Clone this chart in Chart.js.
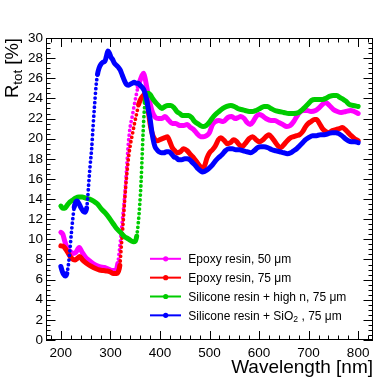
<!DOCTYPE html>
<html>
<head>
<meta charset="utf-8">
<title>Total reflectance vs wavelength</title>
<script src="https://cdn.jsdelivr.net/npm/chart.js@4.4.1/dist/chart.umd.min.js"></script>
<style>
  html, body { margin: 0; padding: 0; background: #fff; }
  canvas { display: block; }
</style>
</head>
<body>
<canvas id="chart" width="389" height="378"></canvas>
<script>
// axis ticks
const xTicks = [200, 300, 400, 500, 600, 700, 800];
const yTicks = [0, 2, 4, 6, 8, 10, 12, 14, 16, 18, 20, 22, 24, 26, 28, 30];

// legend labels (_{..} = subscript)
const labels = [
  'Epoxy resin, 50 \u03bcm',
  'Epoxy resin, 75 \u03bcm',
  'Silicone resin + high n, 75 \u03bcm',
  'Silicone resin + SiO_{2} , 75 \u03bcm'
];

// Epoxy resin, 50 um
const epoxy50Wl = [200,204,208,213,219,225,230,237,243,250,257,265,272,280,288,296,304,311,315,318,321,324,327,330,333,336,340,344,348,352,356,360,364,367,370,373,376,380,385,391,397,404,410,418,425,432,440,448,455,462,468,475,482,488,494,500,506,512,519,528,537,545,552,558,563,570,576,582,588,594,600,606,614,624,632,640,648,656,663,670,676,682,690,697,705,714,722,730,735,742,750,758,766,775,785,792,800];
const epoxy50R = [10.7,10.5,9.8,9.1,8.8,8.6,8.7,9.2,8.7,8.2,7.9,7.6,7.4,7.25,7.2,7.05,6.9,6.9,7.6,8.8,10.2,11.8,13.3,15.0,17.2,19.4,21.2,22.2,23.3,24.3,25.2,25.8,26.3,26.5,26.0,25.2,24.4,23.5,22.6,22.1,22.0,22.0,22.2,21.8,21.5,21.5,21.3,21.3,21.4,21.1,20.9,20.5,20.2,20.2,20.3,20.6,21.4,21.7,21.8,21.7,22.1,22.2,22.0,22.1,22.2,22.0,21.6,21.4,21.7,22.2,22.4,22.3,22.0,21.8,21.8,21.6,21.4,21.2,21.3,21.7,22.2,22.6,22.8,22.8,22.7,22.8,23.1,23.5,23.6,23.3,22.9,22.7,22.6,22.7,22.8,22.7,22.5];

// Epoxy resin, 75 um
const epoxy75Wl = [200,205,210,215,220,225,229,233,238,243,248,255,262,270,278,286,294,300,306,312,316,319,322,325,328,331,334,337,341,345,349,353,357,361,365,369,372,375,378,381,385,390,395,400,405,410,415,420,425,430,435,441,448,455,462,468,474,480,485,490,495,500,506,512,518,523,530,536,542,549,555,560,566,572,580,587,594,600,608,614,620,626,632,638,644,650,657,664,670,676,682,688,694,699,705,712,716,722,728,735,741,748,755,762,768,774,780,786,793,800];
const epoxy75R = [9.35,9.3,9.0,8.6,8.2,8.0,7.95,8.1,8.3,8.0,7.75,7.5,7.3,7.1,6.95,6.9,6.85,6.75,6.6,6.6,6.8,7.4,9.3,11.2,13.3,15.3,16.9,18.3,19.6,20.6,21.6,22.5,23.4,23.9,24.2,24.4,24.2,23.3,22.2,21.2,20.4,19.9,19.8,19.9,20.0,20.1,20.2,19.7,19.1,18.8,18.6,18.7,19.0,18.8,18.4,18.1,17.7,17.3,17.0,17.3,18.1,18.6,18.9,19.3,19.9,20.1,19.8,19.5,19.6,19.9,19.7,19.4,19.2,19.5,20.0,20.2,19.9,19.7,19.9,20.2,20.4,20.1,19.7,19.3,19.1,19.4,19.8,20.1,20.2,20.3,20.4,20.7,21.2,21.5,21.7,21.9,21.9,21.5,21.0,20.7,20.6,20.8,20.9,21.0,21.1,20.9,20.6,20.3,20.0,19.8];

// Silicone resin + high n, 75 um
const highNWl = [200,204,208,213,218,224,230,236,243,250,258,266,274,282,290,298,305,312,320,328,336,342,347,350,353,356,359,362,364,366,368,370,373,376,380,385,391,397,404,410,416,422,428,434,440,446,452,458,464,470,476,482,487,493,499,505,512,519,527,535,543,550,557,564,572,580,587,594,602,610,617,624,632,640,650,660,670,680,688,694,700,706,712,720,728,735,742,750,757,763,770,776,782,790,800];
const highNR = [13.3,13.1,13.1,13.4,13.7,13.9,14.1,14.2,14.2,14.1,14.0,13.8,13.5,13.0,12.6,12.1,11.6,11.1,10.7,10.3,10.05,9.85,9.75,9.8,10.3,11.5,13.3,15.8,18.2,20.6,22.5,23.6,24.3,24.5,24.4,24.0,23.6,23.3,23.0,23.2,23.3,23.3,23.1,22.7,22.5,22.3,22.3,22.3,22.1,21.7,21.5,21.3,21.2,21.3,21.6,22.0,22.4,22.7,23.0,23.2,23.3,23.2,23.0,22.9,22.8,22.7,22.7,22.8,23.0,23.2,23.2,23.0,22.8,22.7,22.6,22.5,22.5,22.6,22.9,23.2,23.5,23.8,23.9,23.9,23.9,24.0,24.2,24.3,24.3,24.1,23.9,23.7,23.4,23.3,23.2];

// Silicone resin + SiO2, 75 um
const sio2Wl = [200,203,206,209,212,215,218,221,224,227,230,233,237,241,245,249,252,254,256,259,262,265,268,271,274,277,281,285,289,292,295,298,301,304,308,312,316,320,324,328,332,336,340,344,348,352,356,360,364,368,371,374,377,380,383,386,390,394,398,403,408,413,418,423,428,433,438,444,450,455,460,466,472,477,482,486,490,495,500,506,512,518,525,532,539,546,553,560,568,576,583,590,597,603,610,618,626,634,642,650,657,664,670,676,682,688,694,700,708,716,724,732,740,748,755,761,767,774,780,786,793,800];
const sio2R = [7.3,6.8,6.5,6.35,6.6,7.4,8.8,10.5,12.0,13.2,13.7,13.8,13.5,13.1,12.8,12.7,13.1,14.0,15.4,17.3,18.9,21.2,23.3,25.2,26.4,27.0,27.4,27.6,27.7,28.2,28.7,28.5,28.1,27.9,27.5,27.3,27.1,26.8,26.3,25.8,25.4,25.3,25.4,25.5,25.6,25.5,25.5,25.3,25.1,24.8,24.3,23.7,22.8,22.0,20.9,20.0,19.2,18.9,18.7,18.6,18.6,18.7,18.7,18.5,18.2,18.1,17.9,17.9,18.0,18.0,17.9,17.6,17.3,17.0,16.8,16.7,16.75,16.9,17.1,17.4,17.8,18.1,18.4,18.8,19.0,19.0,18.9,18.9,18.8,18.7,18.6,18.8,19.1,19.2,19.2,19.1,18.9,18.8,18.7,18.6,18.5,18.6,18.8,19.0,19.3,19.6,19.9,20.1,20.3,20.3,20.4,20.4,20.5,20.6,20.6,20.5,20.3,20.0,19.8,19.7,19.7,19.6];

const colors = ['#ff00ff', '#ff0000', '#00cc00', '#0000ff'];
const FONT = '"Liberation Sans", Arial, Helvetica, sans-serif';

const toPoints = (xs, ys) => xs.map((x, i) => ({ x: x, y: ys[i] }));

// below ~370 nm the spectra are sampled coarser: steep parts show up as separate markers
function series(label, xs, ys, color, order) {
  const steep = ctx => xs[ctx.p1DataIndex] <= 372 &&
    Math.abs(ctx.p1.y - ctx.p0.y) > 4.5 * Math.abs(ctx.p1.x - ctx.p0.x);
  return {
    label: label,
    data: toPoints(xs, ys),
    borderColor: color,
    backgroundColor: color,
    borderWidth: 5,
    borderCapStyle: 'round',
    borderJoinStyle: 'round',
    pointRadius: 0,
    cubicInterpolationMode: 'monotone',
    order: order,
    segment: {
      borderDash: ctx => steep(ctx) ? [0, 4.6] : undefined,
      borderWidth: ctx => steep(ctx) ? 3.8 : undefined
    }
  };
}

// text with _{...} subscripts
function drawRich(ctx, text, x, y, size, align) {
  const parts = text.split(/_\{([^}]*)\}/);
  const sub = size * 0.72;
  let w = 0;
  parts.forEach((p, i) => {
    ctx.font = (i % 2 ? sub : size) + 'px ' + FONT;
    w += ctx.measureText(p).width;
  });
  let cx = align === 'right' ? x - w : x;
  parts.forEach((p, i) => {
    ctx.font = (i % 2 ? sub : size) + 'px ' + FONT;
    ctx.fillText(p, cx, i % 2 ? y + size * 0.22 : y);
    cx += ctx.measureText(p).width;
  });
}

const rootFrame = {
  id: 'rootFrame',
  afterDatasetsDraw(chart) {
    const { ctx, chartArea: a, scales: { x, y } } = chart;
    ctx.save();
    ctx.strokeStyle = '#000';
    ctx.lineWidth = 1;
    ctx.beginPath();
    // inner ticks, ROOT style
    for (let v = 180; v <= 820; v += 20) {
      const px = Math.round(x.getPixelForValue(v)) + 0.5;
      const len = v % 100 === 0 ? 9 : 4.5;
      ctx.moveTo(px, a.bottom); ctx.lineTo(px, a.bottom - len);
      ctx.moveTo(px, a.top); ctx.lineTo(px, a.top + len);
    }
    for (let v = 0; v <= 30; v += 0.5) {
      const py = Math.round(y.getPixelForValue(v)) + 0.5;
      const len = v % 2 === 0 ? 9.5 : 4.5;
      ctx.moveTo(a.left, py); ctx.lineTo(a.left + len, py);
      ctx.moveTo(a.right, py); ctx.lineTo(a.right - len, py);
    }
    ctx.stroke();
    ctx.strokeRect(a.left + 0.5, a.top + 0.5, a.right - a.left - 1, a.bottom - a.top - 1);

    // axis titles
    ctx.fillStyle = '#000';
    ctx.textBaseline = 'alphabetic';
    drawRich(ctx, 'Wavelength [nm]', a.right, 372.5, 19, 'right');
    ctx.save();
    ctx.translate(17.5, a.top);
    ctx.rotate(-Math.PI / 2);
    drawRich(ctx, 'R_{tot} [%]', 0, 0, 18.5, 'right');
    ctx.restore();

    // legend
    chart.data.datasets.forEach((ds, i) => {
      const cy = 258.8 + i * 18.85;
      ctx.strokeStyle = ds.borderColor;
      ctx.fillStyle = ds.borderColor;
      ctx.lineWidth = 2;
      ctx.beginPath();
      ctx.moveTo(150, cy); ctx.lineTo(181, cy);
      ctx.stroke();
      ctx.beginPath();
      ctx.arc(165.7, cy, 2.6, 0, Math.PI * 2);
      ctx.fill();
      ctx.fillStyle = '#000';
      drawRich(ctx, ds.label, 188.3, cy + 4.4, 12, 'left');
    });
    ctx.restore();
  }
};

new Chart(document.getElementById('chart'), {
  type: 'line',
  data: {
    datasets: [
      series(labels[0], epoxy50Wl, epoxy50R, colors[0], 4),
      series(labels[1], epoxy75Wl, epoxy75R, colors[1], 3),
      series(labels[2], highNWl, highNR, colors[2], 2),
      series(labels[3], sio2Wl, sio2R, colors[3], 1)
    ]
  },
  options: {
    responsive: false,
    devicePixelRatio: 1,
    animation: false,
    layout: { padding: { left: 0, top: 38, right: 16, bottom: 0 } },
    plugins: { legend: { display: false }, tooltip: { enabled: false } },
    scales: {
      x: {
        type: 'linear',
        min: 170,
        max: 830,
        grid: { display: false, drawTicks: false },
        border: { display: false },
        afterBuildTicks: s => { s.ticks = xTicks.map(v => ({ value: v })); },
        afterFit: s => { s.height = 38; },
        ticks: { color: '#000', padding: 5, maxRotation: 0, autoSkip: false, font: { family: FONT, size: 13.5 } }
      },
      y: {
        min: 0,
        max: 30,
        grid: { display: false, drawTicks: false },
        border: { display: false },
        afterBuildTicks: s => { s.ticks = yTicks.map(v => ({ value: v })); },
        afterFit: s => { s.width = 46; },
        ticks: { color: '#000', padding: 3, autoSkip: false, font: { family: FONT, size: 13.5 } }
      }
    }
  },
  plugins: [rootFrame]
});
</script>
</body>
</html>
